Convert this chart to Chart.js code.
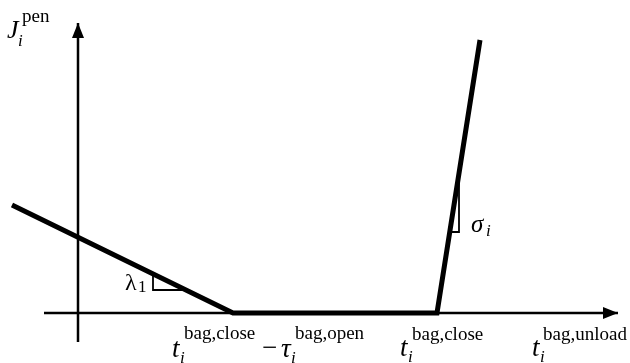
<!DOCTYPE html>
<html>
<head>
<meta charset="utf-8">
<script src="https://cdn.jsdelivr.net/npm/chart.js@4"></script>
<style>
  html, body { margin: 0; padding: 0; background: #fff; }
  #wrap { width: 630px; height: 363px; position: relative; }
</style>
</head>
<body>
<div id="wrap"><canvas id="penalty-canvas"></canvas></div>
<script>
// penalty curve J_i^pen against arrival time (origin of the axes at 0,0)
const penaltyX = [-66, 155, 359, 402];
const penaltyY = [108, 0, 0, 273];

// axes (the arrow heads sit at the last value)
const axisX = [-34, 540];
const axisY = [-29, 290];

// little slope triangles for lambda_1 and sigma_i
const lambdaTriX = [75, 75, 108];
const lambdaTriY = [39, 23, 23];
const sigmaTriX = [372, 381, 381];
const sigmaTriY = [81, 81, 140];

// breakpoints that carry the time labels
const breakX = [155, 359, 540];

function pts(xs, ys) {
    return xs.map(function(x, i) { return { x: x, y: ys[i] }; });
}

function line(data, width) {
    return {
        data: data,
        showLine: true,
        borderColor: '#000',
        borderWidth: width,
        pointRadius: 0,
        borderCapStyle: 'butt',
        borderJoinStyle: 'miter',
        clip: false
    };
}

const serif = '"Liberation Serif", "DejaVu Serif", serif';

// text with sub/superscript: parts are [text, dx, dy, size, italic]
function drawParts(ctx, x, y, parts) {
    parts.forEach(function(p) {
        ctx.font = (p[4] ? 'italic ' : '') + p[3] + 'px ' + serif;
        ctx.fillText(p[0], x + p[1], y + p[2]);
    });
}

const decorations = {
    id: 'decorations',
    afterDatasetsDraw(chart) {
        const ctx = chart.ctx;
        const xs = chart.scales.x, ys = chart.scales.y;
        const ox = xs.getPixelForValue(0), oy = ys.getPixelForValue(0);
        ctx.save();
        ctx.fillStyle = '#000';

        // arrow heads
        const tipX = xs.getPixelForValue(axisX[1]);
        ctx.beginPath();
        ctx.moveTo(tipX, oy);
        ctx.lineTo(tipX - 15, oy - 6);
        ctx.lineTo(tipX - 15, oy + 6);
        ctx.closePath();
        ctx.fill();
        const tipY = ys.getPixelForValue(axisY[1]);
        ctx.beginPath();
        ctx.moveTo(ox, tipY);
        ctx.lineTo(ox - 6, tipY + 15);
        ctx.lineTo(ox + 6, tipY + 15);
        ctx.closePath();
        ctx.fill();

        ctx.textBaseline = 'alphabetic';
        ctx.textAlign = 'left';

        // y axis title
        drawParts(ctx, ox - 71, tipY + 15, [
            ['J', 0, 0, 26, true],
            ['i', 11, 8, 17, true],
            ['pen', 15, -16, 19, false]
        ]);

        // slope labels
        const lx = xs.getPixelForValue(lambdaTriX[0]);
        const ly = ys.getPixelForValue(lambdaTriY[1]);
        drawParts(ctx, lx - 28, ly, [
            ['\u03bb', 0, 0, 24, false],
            ['1', 13, 2, 17, false]
        ]);
        const sx = xs.getPixelForValue(sigmaTriX[1]);
        const sy = ys.getPixelForValue(sigmaTriY[1]);
        drawParts(ctx, sx + 12, sy, [
            ['\u03c3', 0, 0, 25, true],
            ['i', 15, 4, 17, true]
        ]);

        // time labels under the x axis
        const b0 = xs.getPixelForValue(breakX[0]);
        drawParts(ctx, b0 - 61, oy + 44, [
            ['t', 0, 0, 27, true],
            ['i', 8, 6, 17, true],
            ['bag,close', 12, -18, 19, false],
            ['\u2212', 90, -1, 27, false],
            ['\u03c4', 109, 0, 27, true],
            ['i', 119, 6, 17, true],
            ['bag,open', 123, -18, 19, false]
        ]);
        const b1 = xs.getPixelForValue(breakX[1]);
        drawParts(ctx, b1 - 37, oy + 43, [
            ['t', 0, 0, 27, true],
            ['i', 8, 6, 17, true],
            ['bag,close', 12, -16, 19, false]
        ]);
        const b2 = xs.getPixelForValue(breakX[2]);
        drawParts(ctx, b2 - 86, oy + 43, [
            ['t', 0, 0, 27, true],
            ['i', 8, 6, 17, true],
            ['bag,unload', 11, -16, 19, false]
        ]);
        ctx.restore();
    }
};

new Chart(document.getElementById('penalty-canvas'), {
    type: 'scatter',
    data: {
        datasets: [
            line(pts(axisX, [0, 0]), 2.5),
            line(pts([0, 0], axisY), 2.5),
            line(pts(lambdaTriX, lambdaTriY), 1.8),
            line(pts(sigmaTriX, sigmaTriY), 1.8),
            line(pts(penaltyX, penaltyY), 5)
        ]
    },
    options: {
        responsive: true,
        maintainAspectRatio: false,
        animation: false,
        layout: { padding: 0 },
        plugins: { legend: { display: false }, tooltip: { enabled: false } },
        scales: {
            x: { type: 'linear', min: -78, max: 552, display: false },
            y: { type: 'linear', min: -50, max: 313, display: false }
        }
    },
    plugins: [decorations]
});
</script>
</body>
</html>
